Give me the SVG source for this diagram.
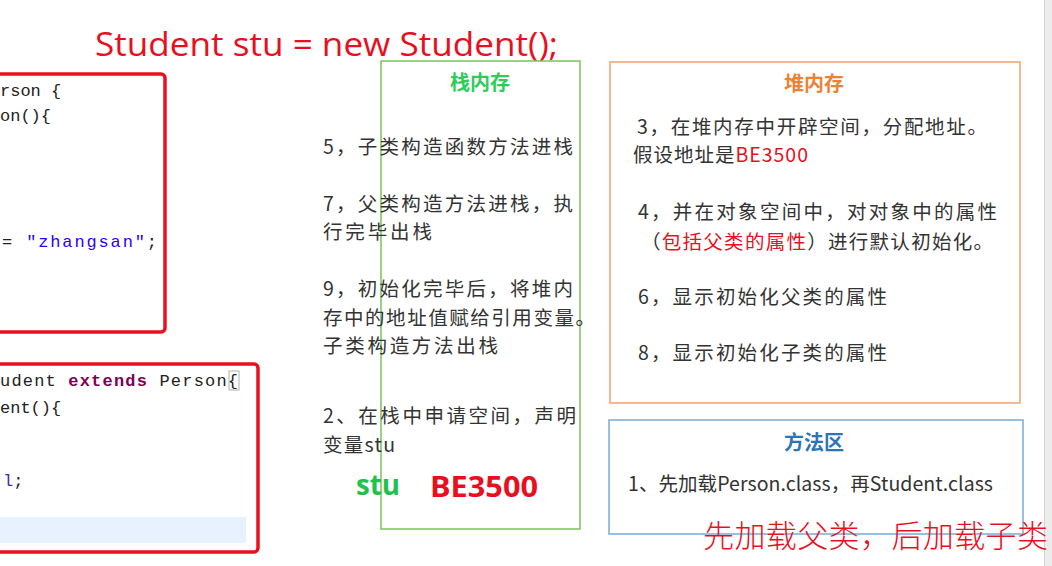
<svg xmlns="http://www.w3.org/2000/svg" width="1052" height="566" viewBox="0 0 1052 566">
<style>
.code{font-family:"Liberation Mono","DejaVu Sans Mono",monospace;font-size:17px;fill:#222}
.kw{fill:#7f0055;font-weight:bold}
.str{fill:#2a00ff}
.t{font-family:"Noto Sans CJK SC",sans-serif;font-size:19.5px;fill:#333}
.red{fill:#e8101e}
.hd{font-family:"Noto Sans CJK SC",sans-serif;font-size:20px;font-weight:bold;text-anchor:middle}
.frame{fill:none;stroke:#e8101e;stroke-width:3.5}
</style>
<rect width="1052" height="566" fill="#ffffff"/>
<rect x="1044" y="0" width="8" height="566" fill="#ececec"/>
<line x1="1044.5" y1="0" x2="1044.5" y2="566" stroke="#d4d4d4" stroke-width="1"/>

<g id="title">
<text x="95" y="56" font-family="'Open Sans','Liberation Sans',sans-serif" font-size="32" fill="#e8101e" textLength="463" lengthAdjust="spacingAndGlyphs">Student stu = new Student();</text>
</g>

<g id="code-person">
<rect class="frame" x="-10" y="74" width="175" height="258" rx="4"/>
<text class="code" x="0" y="96">rson {</text>
<text class="code" x="0" y="121">on(){</text>
<text class="code" x="2" y="247" textLength="155" lengthAdjust="spacing">= <tspan class="str">"zhangsan"</tspan>;</text>
</g>

<g id="code-student">
<rect x="0" y="517" width="246" height="26" fill="#e8f2fe"/>
<rect class="frame" x="-10" y="364" width="268" height="188" rx="4"/>
<text class="code" x="0" y="386" textLength="238" lengthAdjust="spacing">udent <tspan class="kw">extends</tspan> Person{</text>
<rect x="229" y="371" width="10" height="19" fill="none" stroke="#b0b0b0" stroke-width="1"/>
<text class="code" x="0" y="413">ent(){</text>
<text class="code" x="3" y="486"><tspan fill="#3b2fb0">l</tspan>;</text>
</g>

<g id="stack">
<rect x="381" y="61" width="199" height="468" fill="none" stroke="#7cc35a" stroke-width="1.5"/>
<text class="hd" x="480" y="90" fill="#2ecc5a">栈内存</text>
<text class="t" x="323" y="154" textLength="250" lengthAdjust="spacing">5，子类构造函数方法进栈</text>
<text class="t" x="323" y="211" textLength="250" lengthAdjust="spacing">7，父类构造方法进栈，执</text>
<text class="t" x="323" y="239" textLength="109" lengthAdjust="spacing">行完毕出栈</text>
<text class="t" x="323" y="296" textLength="250" lengthAdjust="spacing">9，初始化完毕后，将堆内</text>
<text class="t" x="323" y="325" textLength="272" lengthAdjust="spacing">存中的地址值赋给引用变量。</text>
<text class="t" x="323" y="353" textLength="175" lengthAdjust="spacing">子类构造方法出栈</text>
<text class="t" x="323" y="423" textLength="253" lengthAdjust="spacing">2、在栈中申请空间，声明</text>
<text class="t" x="323" y="452" textLength="72" lengthAdjust="spacing">变量stu</text>
<text x="356" y="495" font-family="'Open Sans','Liberation Sans',sans-serif" font-size="28" font-weight="bold" fill="#1fc24f" textLength="44" lengthAdjust="spacingAndGlyphs">stu</text>
<text x="430" y="497" font-family="'Open Sans','Liberation Sans',sans-serif" font-size="28" font-weight="bold" fill="#e8101e" textLength="108" lengthAdjust="spacingAndGlyphs">BE3500</text>
</g>

<g id="heap">
<rect x="610" y="62" width="410" height="341" fill="none" stroke="#f0a070" stroke-width="1.5"/>
<text class="hd" x="814" y="91" fill="#ec8236">堆内存</text>
<text class="t" x="637" y="134" textLength="350" lengthAdjust="spacing">3，在堆内存中开辟空间，分配地址。</text>
<text class="t" x="633" y="162" textLength="175" lengthAdjust="spacing">假设地址是<tspan class="red">BE3500</tspan></text>
<text class="t" x="638" y="219" textLength="359" lengthAdjust="spacing">4，并在对象空间中，对对象中的属性</text>
<text class="t" x="641" y="249" textLength="352" lengthAdjust="spacing">（<tspan class="red">包括父类的属性</tspan>）进行默认初始化。</text>
<text class="t" x="638" y="304" textLength="249" lengthAdjust="spacing">6，显示初始化父类的属性</text>
<text class="t" x="638" y="360" textLength="249" lengthAdjust="spacing">8，显示初始化子类的属性</text>
</g>

<g id="method-area">
<rect x="609" y="420" width="414" height="114" fill="none" stroke="#7aaad2" stroke-width="1.5"/>
<text class="hd" x="814" y="450" fill="#2e75b6">方法区</text>
<text class="t" x="628" y="491" textLength="365" lengthAdjust="spacing">1、先加载Person.class，再Student.class</text>
</g>

<g id="note">
<text x="703" y="547" font-family="'Noto Sans CJK SC',sans-serif" font-size="31" font-weight="300" fill="#e8101e" textLength="345" lengthAdjust="spacing">先加载父类，后加载子类</text>
</g>
</svg>
